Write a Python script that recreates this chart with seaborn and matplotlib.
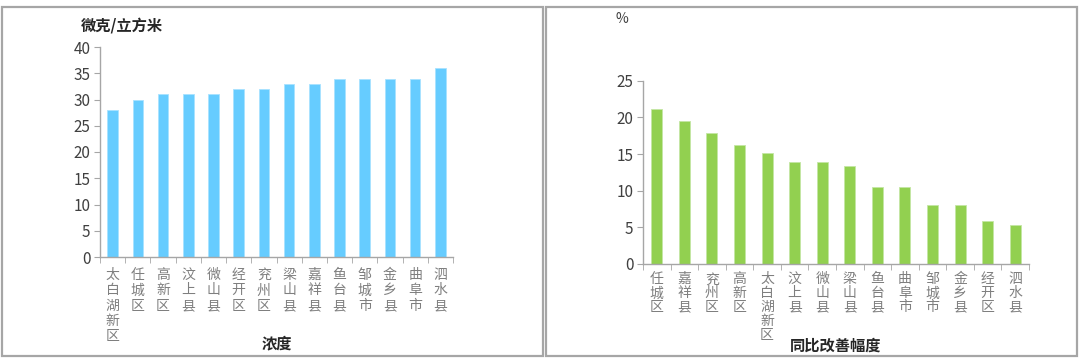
import matplotlib
matplotlib.use("Agg")
import matplotlib.pyplot as plt
import seaborn as sns
from matplotlib.patches import Rectangle

sns.set_style("white")
plt.rcParams['font.family'] = ['Noto Sans CJK SC', 'DejaVu Sans']

# 左图：浓度
conc_districts = ["太白湖新区", "任城区", "高新区", "汶上县", "微山县", "经开区", "兖州区",
                  "梁山县", "嘉祥县", "鱼台县", "邹城市", "金乡县", "曲阜市", "泗水县"]
conc_values = [28, 30, 31, 31, 31, 32, 32, 33, 33, 34, 34, 34, 34, 36]
conc_ticks = [0, 5, 10, 15, 20, 25, 30, 35, 40]

# 右图：同比改善幅度
impr_districts = ["任城区", "嘉祥县", "兖州区", "高新区", "太白湖新区", "汶上县", "微山县",
                  "梁山县", "鱼台县", "曲阜市", "邹城市", "金乡县", "经开区", "泗水县"]
impr_values = [21.1, 19.5, 17.9, 16.2, 15.2, 13.9, 13.9, 13.3, 10.5, 10.5, 8.1, 8.1, 5.9, 5.3]
impr_ticks = [0, 5, 10, 15, 20, 25]

W, H = 1080, 361
fig = plt.figure(figsize=(W / 100, H / 100), dpi=100)

# 面板边框
for x0, x1 in [(2, 543), (546, 1077)]:
    fig.patches.append(Rectangle((x0 / W, 1 - 356 / H), (x1 - x0) / W, (356 - 7) / H,
                                 transform=fig.transFigure, fill=False,
                                 edgecolor="#A6A6A6", linewidth=1.6))


def px_axes(x0, x1, ytop, ybot):
    return fig.add_axes([x0 / W, 1 - ybot / H, (x1 - x0) / W, (ybot - ytop) / H])


def style_axes(ax, cats, ticks, spacing, pad):
    ax.set_facecolor("none")
    ax.set_xlim(-0.5, len(cats) - 0.5)
    ax.set_ylim(ticks[0], ticks[-1])
    ax.set_yticks(ticks)
    ax.set_yticklabels([str(t) for t in ticks], fontsize=11, color="#404040")
    ax.set_xticks(range(len(cats)))
    labels = ax.set_xticklabels(["\n".join(c) for c in cats], fontsize=10, color="#7F7F7F")
    for t in labels:
        t.set_linespacing(spacing)
    ax.set_xticks([i - 0.5 for i in range(len(cats) + 1)], minor=True)
    ax.tick_params(axis="x", which="major", length=0, pad=pad)
    ax.tick_params(axis="x", which="minor", length=4, color="#A6A6A6", direction="out", bottom=True)
    ax.tick_params(axis="y", length=4, color="#A6A6A6", direction="out", left=True, pad=3)
    for s in ["top", "right"]:
        ax.spines[s].set_visible(False)
    for s in ["left", "bottom"]:
        ax.spines[s].set_color("#A6A6A6")
        ax.spines[s].set_linewidth(1.0)
    ax.set_xlabel("")
    ax.set_ylabel("")


ax1 = px_axes(100, 453, 47, 257)
sns.barplot(x=conc_districts, y=conc_values, order=conc_districts, ax=ax1,
            color="#66CCFF", saturation=1, width=0.42, edgecolor="#A8E2FF", linewidth=0.6)
style_axes(ax1, conc_districts, conc_ticks, 1.12, 8)
fig.text(81 / W, 1 - 27 / H, "微克/立方米", fontsize=11, fontweight="bold", va="center", ha="left")
fig.text(276.5 / W, 1 - 343 / H, "浓度", fontsize=11, fontweight="bold", va="center", ha="center")

ax2 = px_axes(643, 1029, 80.7, 264)
sns.barplot(x=impr_districts, y=impr_values, order=impr_districts, ax=ax2,
            color="#92D050", saturation=1, width=0.4, edgecolor="#C4E6A4", linewidth=0.6)
style_axes(ax2, impr_districts, impr_ticks, 1.0, 6)
fig.text(622 / W, 1 - 19 / H, "%", fontsize=10, color="#404040", va="center", ha="center")
fig.text(836 / W, 1 - 346 / H, "同比改善幅度", fontsize=11, fontweight="bold", va="center", ha="center")

fig.savefig("out.png", dpi=100, facecolor="white")
